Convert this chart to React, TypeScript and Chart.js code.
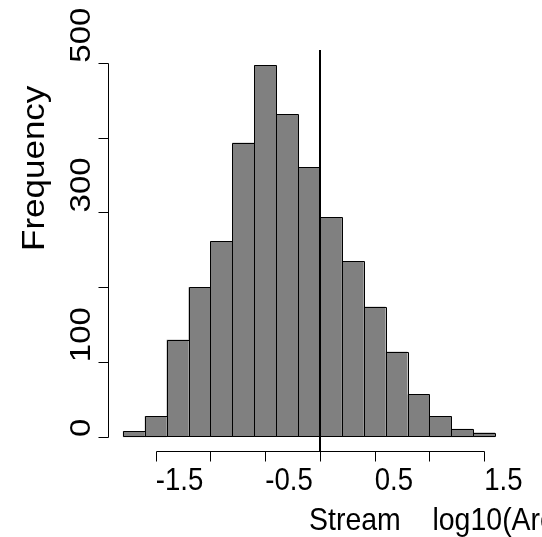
import React, { useEffect, useRef } from "react";
import { Chart, registerables } from "chart.js";

Chart.register(...registerables);

// ---- data ----
const binEdges = [-1.8, -1.6, -1.4, -1.2, -1.0, -0.8, -0.6, -0.4, -0.2, 0.0, 0.2, 0.4, 0.6, 0.8, 1.0, 1.2, 1.4, 1.6];
const counts = [8, 28, 130, 200, 262, 393, 497, 431, 360, 294, 235, 174, 114, 57, 28, 11, 6];
const xTicks = [-1.5, -1.0, -0.5, 0.0, 0.5, 1.0, 1.5];
const xTickLabels = ["-1.5", "", "-0.5", "", "0.5", "", "1.5"];
const yTicks = [0, 100, 200, 300, 400, 500];
const yTickLabels = ["0", "100", "", "300", "", "500"];
const refLineX = 0;
const xTitle = "Stream    log10(Area)";
const yTitle = "Frequency";

// ---- style ----
const FONT = '"Liberation Sans", Arial, Helvetica, sans-serif';
const SQ = 0.89; // horizontal squeeze of glyphs

function drawH(ctx: CanvasRenderingContext2D, text: string, x: number, y: number, size: number) {
  ctx.save();
  ctx.translate(x, y);
  ctx.scale(SQ, 1);
  ctx.font = `${size}px ${FONT}`;
  ctx.fillStyle = "#000";
  ctx.textAlign = "left";
  ctx.textBaseline = "alphabetic";
  ctx.fillText(text, 0, 0);
  ctx.restore();
}

function drawV(ctx: CanvasRenderingContext2D, text: string, x: number, y: number, size: number) {
  ctx.save();
  ctx.translate(x, y);
  ctx.scale(SQ, 1);
  ctx.rotate(-Math.PI / 2);
  ctx.font = `${size}px ${FONT}`;
  ctx.fillStyle = "#000";
  ctx.textAlign = "left";
  ctx.textBaseline = "alphabetic";
  ctx.fillText(text, 0, 0);
  ctx.restore();
}

const axesPlugin = {
  id: "rAxes",
  afterDatasetsDraw(chart: any) {
    const { ctx, chartArea, scales } = chart;
    const xs = scales.x;
    // crisp bar outlines from the bar elements
    const meta = chart.getDatasetMeta(0);
    ctx.save();
    ctx.strokeStyle = "#000";
    ctx.lineWidth = 1;
    ctx.beginPath();
    meta.data.forEach((el: any) => {
      const l = Math.round(el.x - el.width / 2) + 0.5;
      const r = Math.round(el.x + el.width / 2) + 0.5;
      const t = Math.round(el.y) + 0.5;
      const b = Math.round(el.base) - 0.5;
      ctx.rect(l, t, r - l, b - t);
    });
    ctx.stroke();
    ctx.restore();

    const px = Math.round(xs.getPixelForValue(refLineX));
    ctx.save();
    ctx.strokeStyle = "#000";
    ctx.lineWidth = 2;
    ctx.beginPath();
    ctx.moveTo(px, chartArea.top);
    ctx.lineTo(px, chartArea.bottom);
    ctx.stroke();
    ctx.restore();
  },
  afterDraw(chart: any) {
    const { ctx, chartArea, scales } = chart;
    const xs = scales.x;
    const ys = scales.y;
    const L = Math.round(chartArea.left) + 0.5;
    const B = Math.round(chartArea.bottom) - 0.5;
    ctx.save();
    ctx.strokeStyle = "#000";
    ctx.lineWidth = 1;
    // y axis
    const y0 = Math.round(ys.getPixelForValue(yTicks[0])) + 0.5;
    const y1 = Math.round(ys.getPixelForValue(yTicks[yTicks.length - 1])) + 0.5;
    ctx.beginPath();
    ctx.moveTo(L, y0);
    ctx.lineTo(L, y1);
    yTicks.forEach((v) => {
      const p = Math.round(ys.getPixelForValue(v)) + 0.5;
      ctx.moveTo(L, p);
      ctx.lineTo(L - 10, p);
    });
    // x axis
    const x0 = Math.round(xs.getPixelForValue(xTicks[0])) + 0.5;
    const x1 = Math.round(xs.getPixelForValue(xTicks[xTicks.length - 1])) + 0.5;
    ctx.moveTo(x0, B);
    ctx.lineTo(x1, B);
    xTicks.forEach((v) => {
      const p = Math.round(xs.getPixelForValue(v)) + 0.5;
      ctx.moveTo(p, B);
      ctx.lineTo(p, B + 10);
    });
    ctx.stroke();
    ctx.restore();

    // tick labels
    xTicks.forEach((v, i) => {
      if (!xTickLabels[i]) return;
      drawH(ctx, xTickLabels[i], xs.getPixelForValue(v), chartArea.bottom + 38, 31);
    });
    yTicks.forEach((v, i) => {
      if (!yTickLabels[i]) return;
      drawV(ctx, yTickLabels[i], chartArea.left - 18, ys.getPixelForValue(v), 33);
    });
    // titles
    drawH(ctx, xTitle, (chartArea.left + chartArea.right) / 2, chartArea.bottom + 78, 32);
    drawV(ctx, yTitle, chartArea.left - 64, (chartArea.top + chartArea.bottom) / 2, 35);
  },
};

export default function App() {
  const ref = useRef<HTMLCanvasElement | null>(null);
  useEffect(() => {
    if (!ref.current) return;
    const lo = binEdges[0];
    const hi = binEdges[binEdges.length - 1];
    const xPad = (hi - lo) * 0.04;
    const yMax = Math.max(...counts);
    const yPad = yMax * 0.04;
    const pts = counts.map((c, i) => ({ x: (binEdges[i] + binEdges[i + 1]) / 2, y: c }));
    const chart = new Chart(ref.current, {
      type: "bar",
      data: {
        datasets: [
          {
            data: pts as any,
            backgroundColor: "#808080",
            borderColor: "#000000",
            borderWidth: 0,
            borderSkipped: false,
            inflateAmount: 0,
            barPercentage: 1,
            categoryPercentage: 1,
          } as any,
        ],
      },
      options: {
        animation: false,
        responsive: false,
        devicePixelRatio: 1,
        layout: { padding: { left: 108, right: 32, top: 50, bottom: 85 } },
        plugins: { legend: { display: false }, tooltip: { enabled: false }, title: { display: false } },
        scales: {
          x: { type: "linear", min: lo - xPad, max: hi + xPad, display: false, offset: false },
          y: { type: "linear", min: -yPad, max: yMax + yPad, display: false },
        },
      },
      plugins: [axesPlugin],
    });
    return () => chart.destroy();
  }, []);
  return (
    <div style={{ position: "fixed", left: 0, top: 0, width: 542, height: 537, background: "#fff", overflow: "hidden" }}>
      <canvas ref={ref} width={542} height={537} style={{ display: "block", width: 542, height: 537 }} />
    </div>
  );
}
